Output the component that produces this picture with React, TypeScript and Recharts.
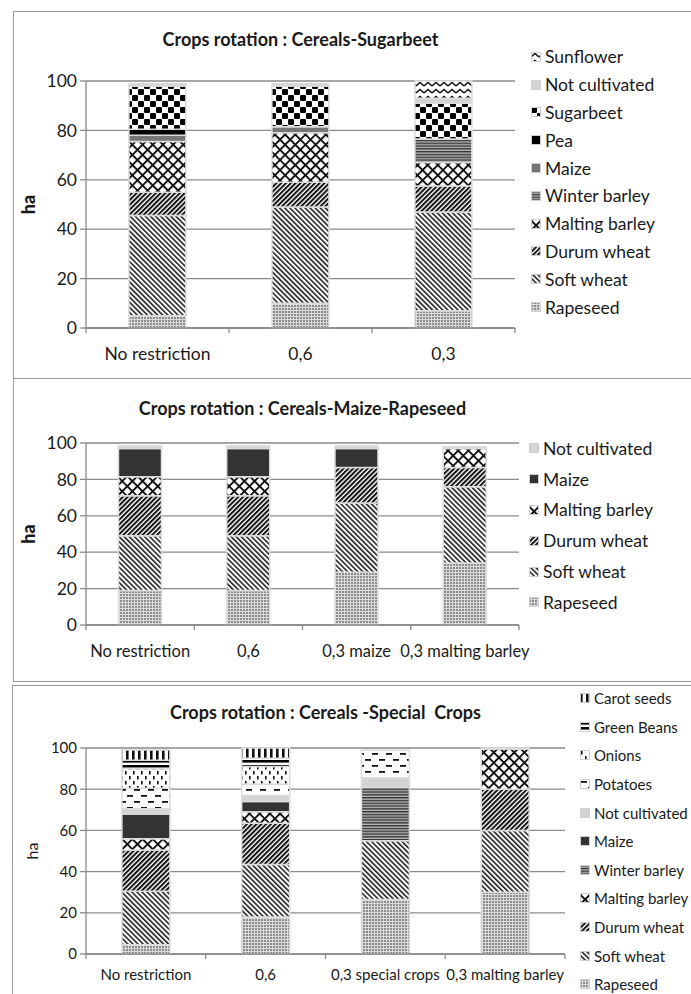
import { BarChart, Bar, XAxis, YAxis, CartesianGrid, Legend, Label } from "recharts";

const FONT = 'Lato, "Open Sans", sans-serif';
const INK = "#1a1a1a";
const GRID = "#8a8a8a";

// ---- Crops rotation : Cereals-Sugarbeet
const sbCategories = ["No restriction", "0,6", "0,3"];
const sbRapeseed = [5, 10, 7];
const sbSoftWheat = [40.5, 39, 40];
const sbDurumWheat = [9.5, 10, 10.5];
const sbMaltingBarley = [20.5, 20, 9.5];
const sbWinterBarley = [0, 0, 9.5];
const sbMaize = [2.5, 2.5, 0];
const sbPea = [2.5, 0, 0];
const sbSugarbeet = [17.5, 16.5, 14.5];
const sbNotCultivated = [1, 1, 2];
const sbSunflower = [0, 0, 7];

// ---- Crops rotation : Cereals-Maize-Rapeseed
const mrCategories = ["No restriction", "0,6", "0,3 maize", "0,3 malting barley"];
const mrRapeseed = [19, 19, 29, 34];
const mrSoftWheat = [30, 30, 38, 42];
const mrDurumWheat = [22, 22, 19.5, 10.5];
const mrMaltingBarley = [10.5, 10.5, 0, 10.5];
const mrMaize = [15.5, 15.5, 10.5, 0];
const mrNotCultivated = [1.5, 1.5, 1.5, 1];

// ---- Crops rotation : Cereals -Special Crops
const scCategories = ["No restriction", "0,6", "0,3 special crops", "0,3 malting barley"];
const scRapeseed = [4.5, 18, 26.5, 30];
const scSoftWheat = [26, 25.5, 28.5, 30];
const scDurumWheat = [20, 20, 0, 20];
const scMaltingBarley = [5.5, 5.5, 0, 19.5];
const scWinterBarley = [0, 0, 26, 0];
const scMaize = [12, 5, 0, 0];
const scNotCultivated = [2.5, 3, 4.5, 0.5];
const scPotatoes = [10, 5.5, 13.5, 0];
const scOnions = [9.5, 8.5, 0, 0];
const scGreenBeans = [4, 4, 0, 0];
const scCarotSeeds = [5, 5, 0, 0];

const yTicks = [0, 20, 40, 60, 80, 100];

type Series = { key: string; name: string; values: number[]; fill: string };

const sbSeries: Series[] = [
  { key: "rapeseed", name: "Rapeseed", values: sbRapeseed, fill: "url(#pat-rapeseed)" },
  { key: "soft", name: "Soft wheat", values: sbSoftWheat, fill: "url(#pat-soft)" },
  { key: "durum", name: "Durum wheat", values: sbDurumWheat, fill: "url(#pat-durum)" },
  { key: "malting", name: "Malting barley", values: sbMaltingBarley, fill: "url(#pat-cross)" },
  { key: "winter", name: "Winter barley", values: sbWinterBarley, fill: "url(#pat-winter)" },
  { key: "maize", name: "Maize", values: sbMaize, fill: "#767676" },
  { key: "pea", name: "Pea", values: sbPea, fill: "#000" },
  { key: "sugarbeet", name: "Sugarbeet", values: sbSugarbeet, fill: "url(#pat-checker)" },
  { key: "nc", name: "Not cultivated", values: sbNotCultivated, fill: "#d4d4d4" },
  { key: "sunflower", name: "Sunflower", values: sbSunflower, fill: "url(#pat-zigzag)" },
];

const mrSeries: Series[] = [
  { key: "rapeseed", name: "Rapeseed", values: mrRapeseed, fill: "url(#pat-rapeseed)" },
  { key: "soft", name: "Soft wheat", values: mrSoftWheat, fill: "url(#pat-soft)" },
  { key: "durum", name: "Durum wheat", values: mrDurumWheat, fill: "url(#pat-durum)" },
  { key: "malting", name: "Malting barley", values: mrMaltingBarley, fill: "url(#pat-cross)" },
  { key: "maize", name: "Maize", values: mrMaize, fill: "#333" },
  { key: "nc", name: "Not cultivated", values: mrNotCultivated, fill: "#d4d4d4" },
];

const scSeries: Series[] = [
  { key: "rapeseed", name: "Rapeseed", values: scRapeseed, fill: "url(#pat-rapeseed)" },
  { key: "soft", name: "Soft wheat", values: scSoftWheat, fill: "url(#pat-soft)" },
  { key: "durum", name: "Durum wheat", values: scDurumWheat, fill: "url(#pat-durum)" },
  { key: "malting", name: "Malting barley", values: scMaltingBarley, fill: "url(#pat-cross)" },
  { key: "winter", name: "Winter barley", values: scWinterBarley, fill: "url(#pat-winter)" },
  { key: "maize", name: "Maize", values: scMaize, fill: "#333" },
  { key: "nc", name: "Not cultivated", values: scNotCultivated, fill: "#d4d4d4" },
  { key: "potatoes", name: "Potatoes", values: scPotatoes, fill: "url(#pat-dash)" },
  { key: "onions", name: "Onions", values: scOnions, fill: "url(#pat-vdash)" },
  { key: "beans", name: "Green Beans", values: scGreenBeans, fill: "url(#pat-hline)" },
  { key: "carot", name: "Carot seeds", values: scCarotSeeds, fill: "url(#pat-vline)" },
];

function buildRows(categories: string[], series: Series[]) {
  return categories.map((category, i) => {
    const row: Record<string, string | number> = { category };
    series.forEach((s) => (row[s.key] = s.values[i]));
    return row;
  });
}

function Patterns() {
  return (
    <svg width={0} height={0} style={{ position: "absolute" }}>
      <defs>
        <pattern id="pat-rapeseed" width="3" height="3" patternUnits="userSpaceOnUse">
          <rect width="3" height="3" fill="#dadada" />
          <rect width="2" height="2" fill="#8c8c8c" />
        </pattern>
        <pattern id="pat-soft" width="3.6" height="3.6" patternUnits="userSpaceOnUse" patternTransform="rotate(-45)">
          <rect width="3.6" height="3.6" fill="#fff" />
          <rect width="1.6" height="3.6" fill="#222" />
        </pattern>
        <pattern id="pat-durum" width="3.4" height="3.4" patternUnits="userSpaceOnUse" patternTransform="rotate(45)">
          <rect width="3.4" height="3.4" fill="#fff" />
          <rect width="2" height="3.4" fill="#111" />
        </pattern>
        <pattern id="pat-cross" width="7.2" height="7.2" patternUnits="userSpaceOnUse" patternTransform="rotate(45)">
          <rect width="7.2" height="7.2" fill="#fff" />
          <rect width="1.9" height="7.2" fill="#111" />
          <rect width="7.2" height="1.9" fill="#111" />
        </pattern>
        <pattern id="pat-winter" width="4" height="2.8" patternUnits="userSpaceOnUse">
          <rect width="4" height="2.8" fill="#b8b8b8" />
          <rect width="4" height="1.4" fill="#333" />
        </pattern>
        <pattern id="pat-checker" width="12" height="12" patternUnits="userSpaceOnUse">
          <rect width="12" height="12" fill="#fff" />
          <rect width="6" height="6" rx="1.2" fill="#000" />
          <rect x="6" y="6" width="6" height="6" rx="1.2" fill="#000" />
        </pattern>
        <pattern id="pat-zigzag" width="8" height="7" patternUnits="userSpaceOnUse">
          <rect width="8" height="7" fill="#fff" />
          <path d="M0,5 L4,1.5 L8,5" stroke="#111" strokeWidth="1.6" fill="none" />
        </pattern>
        <pattern id="pat-dash" width="14" height="12" patternUnits="userSpaceOnUse">
          <rect width="14" height="12" fill="#fff" />
          <rect x="1" y="2" width="6" height="1.8" fill="#111" />
          <rect x="8" y="8" width="6" height="1.8" fill="#111" />
        </pattern>
        <pattern id="pat-vdash" width="8" height="10" patternUnits="userSpaceOnUse">
          <rect width="8" height="10" fill="#fff" />
          <rect x="1" y="1" width="1.6" height="3.5" fill="#111" />
          <rect x="5" y="6" width="1.6" height="3.5" fill="#111" />
        </pattern>
        <pattern id="pat-hline" width="4" height="5" patternUnits="userSpaceOnUse">
          <rect width="4" height="5" fill="#fff" />
          <rect width="4" height="2.6" fill="#000" />
        </pattern>
        <pattern id="pat-vline" width="6" height="6" patternUnits="userSpaceOnUse">
          <rect width="6" height="6" fill="#fff" />
          <rect width="2.6" height="6" fill="#111" />
        </pattern>
      </defs>
    </svg>
  );
}

function CategoryTick(props: any) {
  const { x, y, payload, index, visibleTicksCount, fontSize, labelDy } = props;
  const half = payload && typeof payload.offset === "number" ? payload.offset : 0;
  const last = index === visibleTicksCount - 1;
  return (
    <g>
      <line x1={x - half} x2={x - half} y1={y} y2={y + 5} stroke={GRID} strokeWidth={1.3} />
      {last && <line x1={x + half} x2={x + half} y1={y} y2={y + 5} stroke={GRID} strokeWidth={1.3} />}
      <text x={x} y={y + labelDy} textAnchor="middle" fontSize={fontSize} fontFamily={FONT} fill={INK}>
        {payload.value}
      </text>
    </g>
  );
}

type PanelProps = {
  title: string;
  categories: string[];
  series: Series[];
  top: number;
  height: number;
  frameLeft: number;
  frameHeight: number;
  plotTop: number;
  plotBottom: number;
  plotRight: number;
  titleY: number;
  titleSize: number;
  fontSize: number;
  xFontSize: number;
  labelDy: number;
  yLabelX: number;
  yLabelBold: boolean;
  yLabelSize: number;
  legendLeft: number;
  legendTop: number;
  legendRow: number;
  legendFont: number;
};

function Panel(p: PanelProps) {
  const rows = buildRows(p.categories, p.series);
  const plotLeft = 86;
  const xAxisHeight = 30;
  const marginLeft = 10;
  const margin = {
    top: p.plotTop - p.top,
    bottom: p.top + p.height - p.plotBottom - xAxisHeight,
    left: marginLeft,
    right: 691 - p.plotRight,
  };
  const legendItems = [...p.series].reverse();
  const midY = (p.plotTop + p.plotBottom) / 2 - p.top;
  return (
    <div style={{ position: "absolute", left: 0, top: p.top, width: 691, height: p.height }}>
      <div
        style={{
          position: "absolute",
          left: p.frameLeft,
          top: 0,
          width: 691 - p.frameLeft + 20,
          height: p.frameHeight,
          border: "1.5px solid #9a9a9a",
          boxSizing: "border-box",
        }}
      />
      <div
        style={{
          position: "absolute",
          left: (plotLeft + p.plotRight) / 2 - 220,
          width: 440,
          top: p.titleY - p.top - 11,
          textAlign: "center",
          fontFamily: FONT,
          fontWeight: 700,
          fontSize: p.titleSize,
          lineHeight: "22px",
          color: INK,
          whiteSpace: "pre",
        }}
      >
        {p.title}
      </div>
      <BarChart width={691} height={p.height} data={rows} margin={margin} barCategoryGap="30%">
        <CartesianGrid vertical={false} stroke={GRID} strokeWidth={1.3} />
        <XAxis
          dataKey="category"
          interval={0}
          height={xAxisHeight}
          tickSize={0}
          tickMargin={0}
          tickLine={false}
          axisLine={{ stroke: GRID, strokeWidth: 1.3 }}
          tick={<CategoryTick fontSize={p.xFontSize} labelDy={p.labelDy} />}
        />
        <YAxis
          domain={[0, 100]}
          ticks={yTicks}
          interval={0}
          width={plotLeft - marginLeft}
          tickSize={6}
          tickMargin={3}
          axisLine={{ stroke: GRID, strokeWidth: 1.3 }}
          tickLine={{ stroke: GRID, strokeWidth: 1.3 }}
          tick={{ fontSize: p.fontSize, fill: INK, fontFamily: FONT }}
        >
          <Label
            content={() => (
              <text
                x={p.yLabelX}
                y={midY}
                transform={`rotate(-90, ${p.yLabelX}, ${midY})`}
                textAnchor="middle"
                dominantBaseline="central"
                fontFamily={FONT}
                fontWeight={p.yLabelBold ? 900 : 400}
                fontSize={p.yLabelSize}
                fill={INK}
              >
                ha
              </text>
            )}
          />
        </YAxis>
        {p.series.map((s) => (
          <Bar
            key={s.key}
            dataKey={s.key}
            name={s.name}
            stackId="crops"
            fill={s.fill}
            stroke="#dcdcdc"
            strokeWidth={1.5}
            isAnimationActive={false}
          />
        ))}
        <Legend
          layout="vertical"
          align="center"
          verticalAlign="middle"
          wrapperStyle={{
            left: p.legendLeft,
            top: p.legendTop - p.top,
            right: "auto",
            bottom: "auto",
            width: 691 - p.legendLeft,
            height: "auto",
            margin: 0,
          }}
          content={() => (
            <div style={{ fontFamily: FONT, fontSize: p.legendFont, color: INK }}>
              {legendItems.map((s) => (
                <div key={s.key} style={{ height: p.legendRow, display: "flex", alignItems: "center", whiteSpace: "nowrap" }}>
                  <svg width={10} height={10} style={{ flex: "none" }}>
                    <rect x={0.5} y={0.5} width={9} height={9} fill={s.fill} stroke="#cfcfcf" strokeWidth={1} />
                  </svg>
                  <span style={{ marginLeft: 4 }}>{s.name}</span>
                </div>
              ))}
            </div>
          )}
        />
      </BarChart>
    </div>
  );
}

export default function App() {
  return (
    <div style={{ position: "absolute", left: 0, top: 0, width: 691, height: 994, overflow: "hidden", background: "#fff" }}>
      <Patterns />
      <Panel
        title="Crops rotation : Cereals-Sugarbeet"
        categories={sbCategories}
        series={sbSeries}
        top={11}
        height={367}
        frameLeft={13}
        frameHeight={368}
        plotTop={81}
        plotBottom={328}
        plotRight={515}
        titleY={39}
        titleSize={18}
        fontSize={17.5}
        xFontSize={17.5}
        labelDy={32}
        yLabelX={28}
        yLabelBold={true}
        yLabelSize={18}
        legendLeft={531}
        legendTop={43}
        legendRow={27.8}
        legendFont={17.5}
      />
      <Panel
        title="Crops rotation : Cereals-Maize-Rapeseed"
        categories={mrCategories}
        series={mrSeries}
        top={378}
        height={304}
        frameLeft={13}
        frameHeight={304}
        plotTop={443}
        plotBottom={625}
        plotRight={519}
        titleY={408}
        titleSize={18}
        fontSize={17.5}
        xFontSize={16.5}
        labelDy={32}
        yLabelX={28}
        yLabelBold={true}
        yLabelSize={18}
        legendLeft={529}
        legendTop={433}
        legendRow={30.8}
        legendFont={17.5}
      />
      <Panel
        title="Crops rotation : Cereals -Special  Crops"
        categories={scCategories}
        series={scSeries}
        top={685}
        height={309}
        frameLeft={12}
        frameHeight={330}
        plotTop={748}
        plotBottom={954}
        plotRight={565}
        titleY={712}
        titleSize={18}
        fontSize={15}
        xFontSize={15}
        labelDy={26}
        yLabelX={31}
        yLabelBold={false}
        yLabelSize={16}
        legendLeft={580}
        legendTop={684}
        legendRow={28.6}
        legendFont={15}
      />
    </div>
  );
}
